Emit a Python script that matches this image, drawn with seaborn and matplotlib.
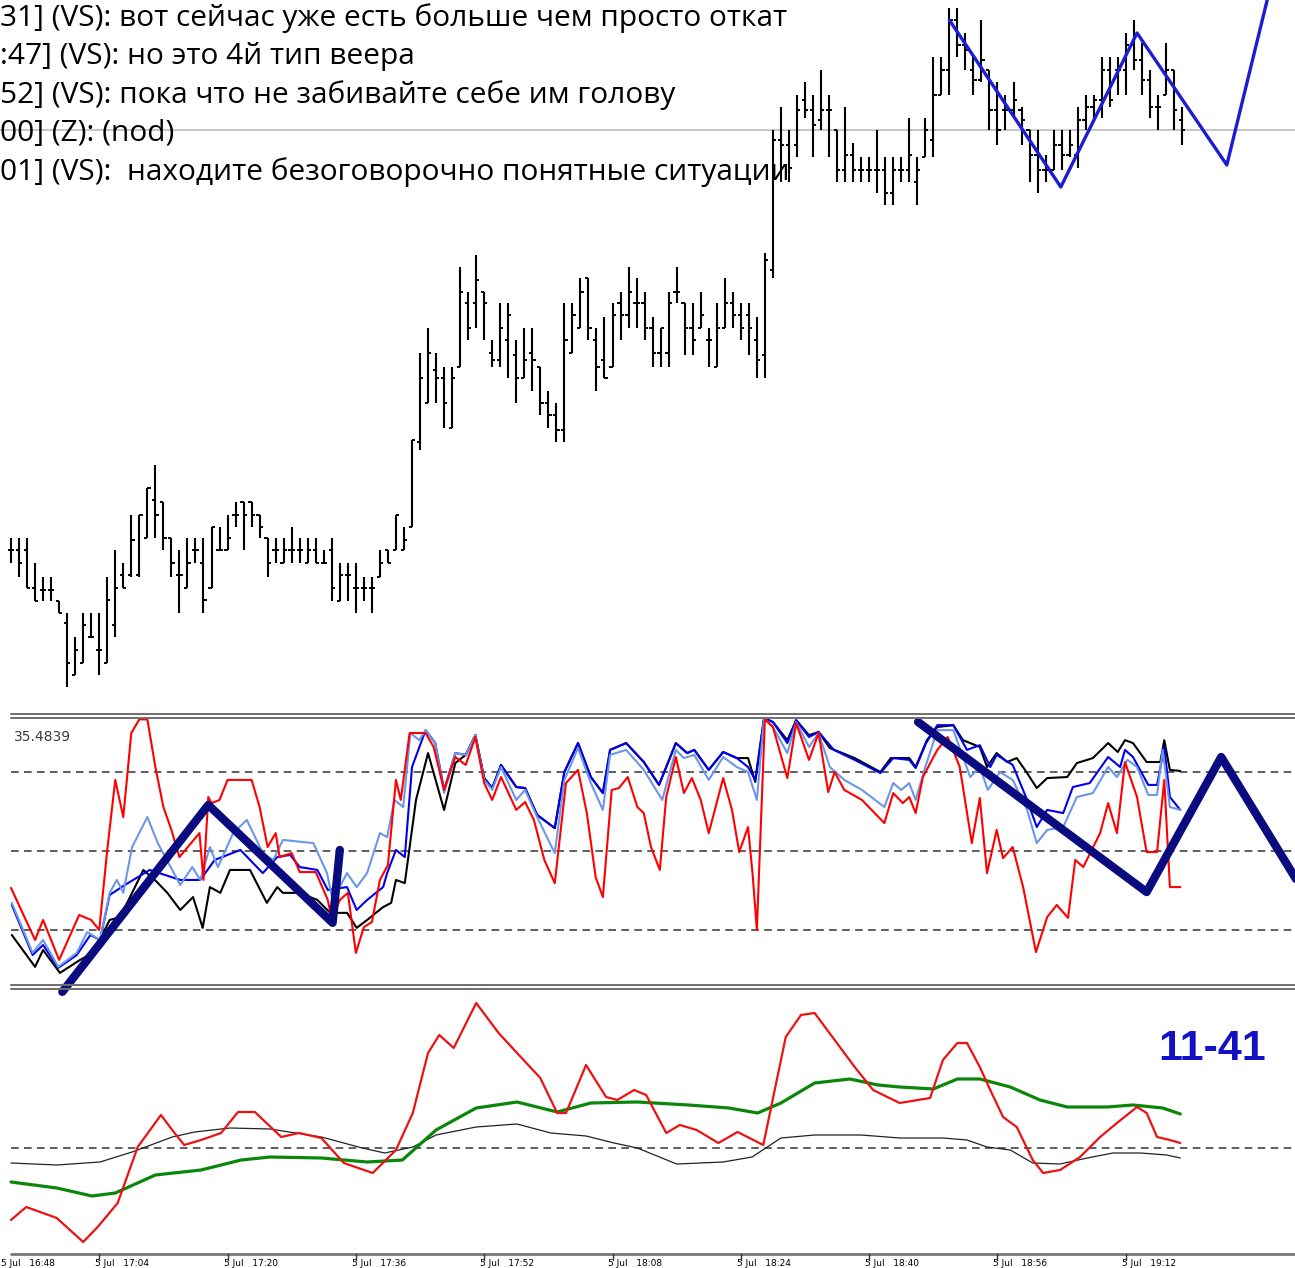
import numpy as np
import matplotlib
matplotlib.use("Agg")
import matplotlib.pyplot as plt
from matplotlib.lines import Line2D
import seaborn as sns

W, H = 1295, 1268

# ---------------- price bars (chart level units) ----------------
bar_high = [162,162,162,137,123,123,99,87,63,87,
            87,87,123,150,137,185,185,212,235,198,
            162,150,162,162,162,173,173,185,198,198,
            198,185,162,162,162,173,162,162,162,150,
            162,137,137,137,123,123,150,150,185,173,
            260,347,372,347,333,333,433,408,445,408,
            360,397,397,360,372,372,333,309,297,397,
            397,422,422,372,383,397,408,433,422,408,
            383,372,408,433,397,397,408,372,397,422,
            408,397,397,383,447,570,593,570,605,618,
            605,630,605,570,593,557,543,543,570,543,
            543,543,582,543,582,643,643,692,692,667,
            643,680,630,618,605,618,593,570,570,545,
            570,570,570,593,605,605,643,643,643,667,
            680,657,630,605,657,630,593]
bar_low = [137,123,112,99,99,99,87,13,25,37,
           63,25,37,63,112,123,123,162,162,150,
           123,87,112,137,87,112,150,150,173,150,
           173,162,123,137,137,137,137,137,137,137,
           99,99,99,87,99,87,123,137,150,150,
           173,250,297,297,272,272,333,360,372,360,
           333,333,322,297,322,309,285,272,258,258,
           347,372,360,309,322,333,360,372,372,360,
           333,333,333,397,345,345,372,333,333,372,
           372,360,345,322,322,422,518,518,543,582,
           543,570,543,518,518,518,518,518,507,495,
           495,518,518,495,543,543,605,605,643,630,
           605,618,570,555,570,582,555,518,507,518,
           530,530,543,532,570,582,582,593,605,605,
           630,605,582,570,605,570,555]
bar_open = [150,150,150,112,110,110,99,77,25,37,
            63,50,37,75,125,125,125,162,200,198,
            162,125,112,150,137,112,150,150,185,198,
            198,185,162,150,137,150,150,137,150,137,
            150,99,125,112,112,112,123,150,150,150,
            173,258,297,330,322,272,333,397,397,408,
            347,340,360,345,322,347,333,297,285,270,
            347,372,422,360,340,333,397,385,397,397,
            372,347,347,408,397,372,372,360,333,372,
            397,385,385,360,345,430,560,555,555,600,
            590,580,590,570,530,545,530,530,530,530,
            507,530,530,518,543,560,605,630,680,655,
            630,620,630,590,590,590,590,570,545,530,
            530,555,545,545,580,593,600,630,630,630,
            655,640,620,593,605,630,580]
bar_close = [150,137,112,99,110,110,87,37,50,75,
             63,50,100,112,112,160,185,212,185,162,
             137,125,137,150,100,173,150,162,185,185,
             185,173,137,150,150,150,150,150,137,137,
             112,125,125,112,112,112,137,137,185,160,
             260,322,347,322,297,322,408,372,420,397,
             340,372,385,322,340,340,297,285,270,360,
             385,408,372,333,322,385,385,408,397,372,
             347,372,397,408,372,360,385,360,372,397,
             385,372,372,340,440,560,555,532,590,590,
             575,590,590,530,545,530,530,530,530,507,
             530,530,545,530,570,605,630,680,655,650,
             620,640,590,570,590,600,580,545,530,530,
             555,545,555,580,593,600,630,600,630,655,
             640,620,593,593,630,590,570]
price_level = 570
price_zigzag = [(117.0, 680), (130.9, 513), (140.4, 667), (151.6, 535), (157.0, 712)]

# ---------------- middle oscillator (0..100) ----------------
mid_levels = [20, 50, 80]
mid_label = "35.4839"
mid_red = [(0,36.0),(3,16.2),(4,23.8),(6,8.6),(8.5,25.7),(10,23.8),(11,20.0),(12,50.4),(13,77.0),(14,62.9),
           (15,94.8),(16,100.0),(17,100.0),(18,81.9),(19,66.7),(20,58.0),(21,47.7),(23.5,56.8),(24,39.0),(24.6,70.5),
           (25,68.2),(26,69.4),(27,77.0),(30,77.0),(31,66.7),(32,51.5),(33,56.8),(33.5,47.7),(35,49.2),(36,42.0),
           (38,42.0),(39.5,31.4),(40,23.8),(41,31.4),(42,34.1),(43,11.3),(44,21.1),(45,23.0),(46,39.0),(47,44.7),
           (48,77.0),(48.6,69.4),(49.7,94.8),(51.7,94.8),(52.7,89.5),(54,73.2),(55.4,85.7),(56.7,82.7),(57.9,93.3),(59,75.8),
           (60,69.4),(61.1,78.1),(63,65.6),(64.1,68.6),(65.2,61.8),(66.5,46.6),(67.8,37.8),(69.2,75.8),(70.7,80.8),(71.8,64.4),
           (72.9,40.1),(73.8,32.5),(74.9,73.2),(75.8,73.9),(76.9,78.1),(78.1,66.7),(78.9,64.4),(79.8,51.5),(80.9,42.8),(81.7,70.5),
           (82.9,85.7),(83.9,72.0),(84.9,77.7),(86,69.4),(87,56.8),(88.8,77.7),(89.9,65.6),(90.8,49.6),(91.9,59.1),(92.5,40.1),
           (93,20.0),(94,100.0),(95,97.1),(96.8,77.7),(97.9,98.6),(99.5,84.6),(100.7,94.8),(101.9,72.4),(102.7,80.0),(103.9,73.2),
           (106.1,69.4),(108.9,60.6),(110,72.0),(111.2,68.2),(112,70.5),(112.8,64.4),(113.7,78.1),(115.5,88.4),(116.8,93.3),(118.3,81.9),
           (119.8,53.0),(120.8,70.1),(121.7,41.6),(122.9,58.0),(123.7,47.3),(124.9,51.5),(126.2,36.3),(127.8,11.6),(129.2,24.9),(130.4,29.5),
           (131.8,24.6),(132.7,46.6),(133.7,43.9),(135.8,56.8),(136.8,68.2),(137.9,56.8),(138.9,83.8),(140.4,70.5),(141.6,49.6),(142.9,49.6),
           (143.8,77.0),(144.5,36.3),(145.8,36.3)]
mid_lightblue = [(0.1,30.3),(2.7,11.3),(4.0,16.2),(5.9,6.0),(8.2,11.3),(9.5,19.2),(11.1,16.2),(12.3,34.1),(13.2,39.0),(14.0,34.1),
                 (15.1,51.5),(17.0,62.9),(18.3,53.0),(21.1,37.1),(22.6,43.9),(23.6,39.0),(24.8,51.5),(25.8,43.9),(27.7,56.8),(29.4,61.8),
                 (31.4,49.2),(32.7,46.6),(33.9,54.2),(37.7,53.0),(39.4,41.6),(40.1,31.4),(41.9,41.6),(43.1,36.3),(44.4,41.6),(46.0,56.8),
                 (46.9,55.3),(47.8,69.4),(48.9,66.7),(49.8,94.8),(50.9,92.1),(51.7,95.9),(52.9,91.0),(54.0,72.0),(55.4,87.2),(56.7,86.5),
                 (57.9,94.0),(59.0,77.0),(60.0,73.2),(61.1,81.9),(63.0,69.4),(64.1,73.2),(65.6,62.9),(67.8,49.2),(69.0,77.0),(70.7,89.1),
                 (72.3,75.8),(73.8,65.6),(74.7,86.5),(76.7,88.4),(78.9,80.8),(81.2,69.4),(82.9,88.4),(83.9,85.3),(85.2,86.5),(87.0,77.0),
                 (88.8,85.7),(90.5,81.9),(91.9,80.0),(93.0,69.4),(93.9,100.5),(95.0,97.1),(96.8,87.2),(97.9,99.0),(99.5,89.5),(100.7,94.8),
                 (102.1,81.9),(103.9,77.0),(106.1,73.2),(108.9,66.7),(110.0,75.8),(111.0,73.2),(112.0,75.8),(112.8,69.4),(114.0,81.9),(115.5,95.9),
                 (117.5,95.9),(119.6,78.1),(120.8,81.9),(121.8,73.2),(123.3,80.0),(124.9,77.0),(126.7,65.6),(127.9,53.0),(129.2,58.0),(131.2,59.1),
                 (132.9,70.5),(134.9,72.0),(136.8,81.9),(137.9,78.1),(139.2,84.6),(140.4,81.9),(141.8,71.3),(142.9,71.3),(143.6,88.4),(144.5,66.7),
                 (145.8,65.6)]
mid_blue = [(0.1,29.5),(2.7,10.5),(4.0,14.3),(5.9,5.6),(8.2,10.5),(9.9,18.1),(11.1,16.2),(12.3,33.3),(14.2,37.1),(17.3,42.8),
            (21.1,39.0),(23.6,39.0),(25.4,46.6),(28.6,50.4),(31.4,41.6),(33.2,47.7),(34.8,48.5),(36.0,43.9),(38.2,42.8),(39.5,35.2),
            (41.9,36.3),(43.1,27.6),(44.4,31.4),(46.4,36.3),(46.9,41.6),(48.0,50.4),(49.1,47.7),(50.0,81.9),(51.7,95.9),(52.9,91.0),
            (54.0,73.2),(55.4,87.2),(56.7,86.5),(57.9,94.0),(59.0,77.7),(60.0,73.9),(61.1,82.7),(63.0,74.3),(64.1,73.9),(65.6,63.7),
            (67.8,58.7),(69.0,80.0),(70.7,91.0),(72.3,78.1),(73.8,72.0),(74.7,88.4),(76.7,91.0),(78.9,83.8),(80.8,75.1),(82.9,91.0),
            (84.3,87.2),(85.2,88.4),(87.0,80.8),(88.8,87.6),(90.5,85.3),(91.9,81.9),(92.8,77.0),(93.9,100.5),(95.0,99.0),(96.8,91.0),
            (97.9,99.7),(99.5,93.3),(100.7,95.2),(102.6,88.4),(105.2,84.6),(108.4,79.6),(110.0,85.3),(112.0,84.6),(112.8,81.5),(114.1,91.0),
            (115.5,97.8),(117.5,97.8),(119.2,88.4),(120.8,90.2),(122.1,81.9),(122.9,86.5),(124.9,82.7),(126.7,69.4),(127.9,59.1),(129.2,65.6),
            (131.2,64.4),(132.4,74.3),(134.5,75.8),(136.8,85.7),(138.3,81.9),(138.9,88.4),(139.9,85.7),(141.8,75.1),(142.9,75.1),(143.8,89.5),
            (144.5,70.5),(145.8,65.6)]
mid_black = [(0.1,18.1),(3.0,6.0),(4.0,12.4),(6.1,3.7),(8.6,8.6),(10.2,11.3),(11.5,18.9),(12.3,23.8),(13.6,24.9),(15.1,34.1),
             (16.5,42.8),(18.2,38.2),(19.5,34.1),(21.1,27.6),(22.7,32.5),(23.9,20.8),(24.8,36.3),(26.1,34.1),(27.3,42.8),(29.8,42.8),
             (31.9,30.3),(33.2,36.3),(33.9,34.1),(36.0,34.1),(38.2,31.4),(39.8,26.5),(41.9,26.5),(43.1,20.8),(44.4,23.8),(46.4,28.7),
             (47.4,30.3),(48.0,39.0),(49.1,37.8),(50.5,69.4),(52.0,87.2),(54.0,65.6),(55.4,83.4),(56.7,86.5),(57.9,94.0),(59.0,77.7),
             (60.0,73.9),(61.1,82.7),(63.0,74.3),(64.1,73.9),(65.6,63.7),(67.8,58.7),(69.0,80.0),(70.7,91.0),(72.3,78.1),(73.8,72.0),
             (74.7,88.4),(76.7,91.0),(78.9,83.8),(80.8,75.1),(82.9,91.0),(84.3,87.2),(85.2,88.4),(87.0,80.8),(88.8,87.6),(90.5,85.3),
             (91.9,85.3),(92.8,76.2),(93.9,100.5),(95.0,99.0),(96.8,92.1),(97.9,99.7),(99.5,94.0),(100.7,95.2),(102.1,89.1),(105.2,85.3),
             (108.4,80.0),(109.7,85.3),(112.0,85.3),(112.8,81.9),(114.2,92.1),(115.5,97.1),(117.5,97.8),(118.7,92.1),(120.8,89.5),(121.7,81.9),
             (122.9,87.2),(124.2,83.8),(125.4,85.3),(126.7,79.6),(127.9,73.9),(129.2,77.7),(131.7,78.1),(132.9,83.4),(134.9,85.3),(136.8,91.0),
             (138.0,87.6),(138.9,92.1),(139.9,91.0),(141.6,83.8),(143.3,83.8),(143.8,92.1),(144.5,80.8),(145.8,80.4)]
mid_zigzag_a = [(6.4,-3.5),(24.6,67.5),(40.1,22.7),(41.0,50.4)]
mid_zigzag_b = [(113.1,99.0),(141.6,34.4),(150.9,85.7),(161.5,33.0)]

# ---------------- bottom oscillator ----------------
bot_red = [(0,-7.2),(1.9,-5.9),(5.7,-7.0),(9.0,-9.4),(10.8,-7.9),(13.3,-5.5),(15.8,0.1),(18.7,3.3),(20.1,1.8),(21.6,0.3),
           (23.7,0.8),(26.2,1.5),(28.3,3.6),(30.4,3.6),(33.7,1.1),(35.9,1.5),(38.7,1.0),(41.5,-1.5),(45.1,-2.5),(48.0,-0.2),
           (50.1,3.5),(52.0,9.5),(53.4,11.3),(55.2,10.0),(58.0,14.5),(60.8,11.5),(63.1,9.5),(66.0,7.0),(68.1,3.5),(69.2,3.5),
           (71.7,8.3),(74.2,5.1),(75.6,4.8),(77.7,5.8),(79.2,5.3),(81.7,1.5),(83.4,2.3),(85.5,1.8),(88.2,0.5),(90.6,1.6),
           (93.8,0.3),(96.6,11.1),(98.5,13.3),(100.2,13.5),(105.2,8.1),(107.5,5.8),(110.8,4.5),(114.6,5.0),(116.2,8.8),(118.0,10.5),
           (119.2,10.5),(120.8,8.1),(122.1,5.8),(123.7,3.1),(125.4,2.1),(127.4,-1.2),(128.7,-2.5),(130.8,-2.2),(133.3,-0.9),(135.8,1.1),
           (137.9,2.5),(140.4,4.1),(141.6,3.5),(142.9,1.1),(144.5,0.8),(145.8,0.5)]
bot_green = [(0,-3.4),(5.7,-4.0),(10.1,-4.8),(13.0,-4.5),(18.0,-2.7),(23.7,-2.2),(28.7,-1.2),(32.3,-0.9),(38.7,-1.0),(44.4,-1.4),
             (48.8,-1.2),(53.0,1.8),(58.0,4.0),(63.1,4.6),(68.1,3.6),(72.3,4.5),(78.1,4.6),(84.5,4.3),(89.5,4.0),(93.1,3.5),
             (96.0,4.5),(100.2,6.5),(104.6,6.9),(108.1,6.3),(110.8,6.1),(115.0,5.9),(118.0,6.9),(120.8,6.9),(124.6,6.1),(128.3,4.8),
             (131.7,4.1),(136.7,4.1),(139.9,4.3),(143.6,4.0),(145.8,3.4)]
bot_black = [(0,-1.5),(5.7,-1.7),(11.1,-1.4),(15.1,-0.4),(20.1,1.1),(22.9,1.6),(27.3,2.0),(32.3,1.9),(38.7,1.1),(43.8,0.0),
             (46.6,-0.5),(50.1,0.1),(53.0,1.3),(58.0,2.1),(63.1,2.4),(67.3,1.5),(71.7,1.2),(75.2,0.5),(78.1,0.0),(83.0,-1.6),
             (88.8,-1.4),(92.4,-0.9),(96.0,1.0),(100.2,1.3),(106.0,1.3),(110.8,1.0),(116.2,1.0),(119.2,0.8),(121.7,0.1),(124.6,-0.2),
             (127.4,-1.5),(130.8,-1.6),(134.2,-1.0),(137.4,-0.5),(140.8,-0.5),(144.1,-0.7),(145.8,-1.0)]
bot_level = 0
bot_label = "11-41"

# ---------------- time axis ----------------
tick_bars = [-5, 11, 27, 43, 59, 75, 91, 107, 123, 139]
tick_labels = ["5 Jul   16:48", "5 Jul   17:04", "5 Jul   17:20", "5 Jul   17:36", "5 Jul   17:52",
               "5 Jul   18:08", "5 Jul   18:24", "5 Jul   18:40", "5 Jul   18:56", "5 Jul   19:12"]

chat_lines = ["31] (VS): вот сейчас уже есть больше чем просто откат",
              ":47] (VS): но это 4й тип веера",
              "52] (VS): пока что не забивайте себе им голову",
              "00] (Z): (nod)",
              "01] (VS):  находите безоговорочно понятные ситуации"]

# =========================================================
sns.set_theme(style="white")
plt.rcParams['font.family'] = ['Open Sans', 'DejaVu Sans']

fig = plt.figure(figsize=(W / 100, H / 100), dpi=100)
fig.patch.set_facecolor("white")

def fx(px):
    return px / W

def fy(py):
    return 1 - py / H

STEP, X0 = 8.02, 11.0
XL = (-X0 / STEP, (W - X0) / STEP)

ax_p = fig.add_axes([0, fy(700), 1, 700 / H])
ax_m = fig.add_axes([0, fy(985), 1, (985 - 717) / H])
ax_b = fig.add_axes([0, fy(1253), 1, (1253 - 990) / H])
for ax in (ax_p, ax_m, ax_b):
    ax.set_xlim(*XL)
    ax.set_axis_off()
ax_p.set_ylim(0, 700)
ax_m.set_ylim(-0.9, 100.9)
ax_b.set_ylim(-10.5, 15.8)

def line(ax, pts, color, lw, z=2, clip=True):
    xs = [p[0] for p in pts]
    ys = [p[1] for p in pts]
    sns.lineplot(x=xs, y=ys, ax=ax, color=color, linewidth=lw, sort=False,
                 estimator=None, legend=False, zorder=z, clip_on=clip)

# ---- price panel ----
xb = np.arange(len(bar_high))
ax_p.axhline(price_level, color="#c4c4c4", lw=1.4, zorder=0)
ax_p.vlines(xb, bar_low, bar_high, color="black", lw=1.5, zorder=2)
ax_p.hlines(bar_open, xb - 0.4, xb, color="black", lw=1.4, zorder=2)
ax_p.hlines(bar_close, xb, xb + 0.4, color="black", lw=1.4, zorder=2)
line(ax_p, price_zigzag, "#1c1cd2", 2.4, z=3)

for i, t in enumerate(chat_lines):
    fig.text(0.0, fy(18 + 38.5 * i), t, fontsize=21.5, color="black",
             ha="left", va="center", zorder=10)

# ---- middle panel ----
dash = (0, (5, 3.5))
for lv in mid_levels:
    ax_m.axhline(lv, xmin=fx(11), color="#333333", lw=1.1, ls=dash, zorder=1)
line(ax_m, mid_black, "black", 1.5)
line(ax_m, mid_blue, "#0000ee", 1.5)
line(ax_m, mid_lightblue, "#6b96ea", 1.5)
line(ax_m, mid_red, "#ff0000", 1.5)
line(ax_m, mid_zigzag_a, "#0b0b80", 6.0, z=5, clip=False)
line(ax_m, mid_zigzag_b, "#0b0b80", 6.0, z=5, clip=False)
fig.text(fx(14), fy(737), mid_label, fontsize=10, color="#3a3a3a",
         family="DejaVu Sans", ha="left", va="center")

# ---- bottom panel ----
ax_b.axhline(bot_level, xmin=fx(11), color="#333333", lw=1.1, ls=dash, zorder=1)
line(ax_b, bot_black, "#222222", 0.9)
line(ax_b, bot_green, "#0a860a", 2.3)
line(ax_b, bot_red, "#ee1111", 1.6)
fig.text(fx(1158), fy(1049), bot_label, fontsize=31, fontweight="bold",
         color="#1212c4", family="Liberation Sans", ha="left", va="center")

# ---- separators and time axis ----
def hline_px(py, x0, x1, **kw):
    fig.add_artist(Line2D([fx(x0), fx(x1)], [fy(py), fy(py)],
                          transform=fig.transFigure, **kw))

for py in (713.5, 717.5, 984.5, 988.5):
    hline_px(py, 11, W, color="#6e6e6e", lw=1.4)
hline_px(1253.5, 11, W, color="#777777", lw=2.0)

for tb, lab in zip(tick_bars, tick_labels):
    px = X0 + STEP * tb
    fig.add_artist(Line2D([fx(px), fx(px)], [fy(1254), fy(1260)],
                          transform=fig.transFigure, color="#333333", lw=1.0))
    fig.text(fx(max(px - 4, 1)), fy(1258.5), lab, fontsize=6.5, color="black",
             family="DejaVu Sans", ha="left", va="top")

fig.savefig("out.png", dpi=100, facecolor="white")
